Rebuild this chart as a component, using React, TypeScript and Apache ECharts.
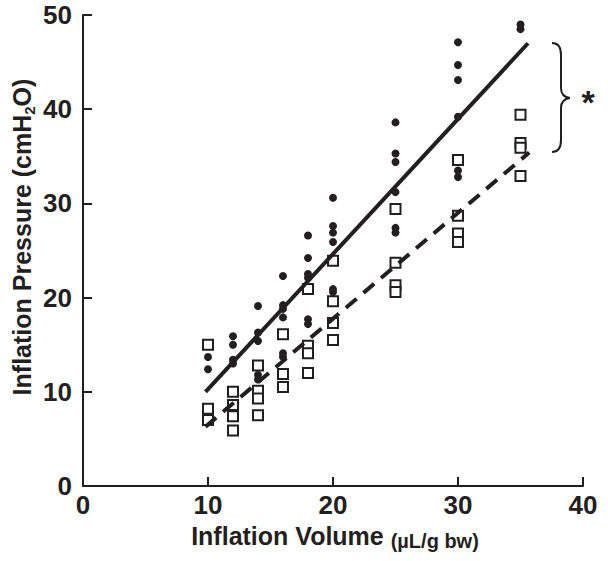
import React, { useEffect, useRef } from 'react';
import * as echarts from 'echarts';

// Inflation volume groups (µL/g bw)
const volumes = [10, 12, 14, 16, 18, 20, 25, 30, 35];
// Filled circles: inflation pressure (cmH2O) per volume
const filledPressures = [
  [13.7, 12.4],
  [15.9, 15.0, 13.4, 13.0],
  [19.1, 16.3, 15.4, 11.8, 11.3],
  [22.3, 19.2, 18.8, 17.9, 14.1, 13.7],
  [26.6, 24.2, 22.5, 22.1, 17.7, 17.2],
  [30.6, 27.6, 26.9, 25.9, 20.9, 20.6],
  [38.6, 35.3, 34.4, 31.2, 27.4, 26.9],
  [47.1, 44.7, 43.1, 39.2, 33.5, 32.8],
  [49.0, 48.5],
];
// Open squares: inflation pressure (cmH2O) per volume
const openPressures = [
  [15.0, 8.2, 7.0],
  [10.0, 8.6, 7.4, 5.9],
  [12.8, 10.1, 9.3, 7.5],
  [16.1, 11.9, 10.5],
  [20.9, 14.9, 14.1, 12.0],
  [23.9, 19.6, 17.3, 15.5],
  [29.4, 23.7, 21.3, 20.6],
  [34.6, 28.7, 26.8, 25.9],
  [39.4, 36.4, 35.9, 32.9],
];
// Regression lines (endpoints)
const solidFit = [[9.8, 10.0], [35.6, 47.0]];
const dashedFit = [[9.8, 6.3], [35.7, 35.4]];

const xAxisRange = { min: 0, max: 40, interval: 10 };
const yAxisRange = { min: 0, max: 50, interval: 10 };

const INK = '#231f20';
const FONT = '"Liberation Sans", Arial, Helvetica, sans-serif';

const BRACE_D =
  'M552,43 Q561,43 561,55 L561,88 Q561,97 570,98 Q561,99 561,108 L561,140 Q561,152 552,152';
echarts.graphic.registerShape('brace', echarts.graphic.extendPath(BRACE_D, {}));

function toPoints(groups: number[][]) {
  const out: number[][] = [];
  volumes.forEach((v, i) => groups[i].forEach((p) => out.push([v, p])));
  return out;
}

export default function App() {
  const ref = useRef<HTMLDivElement>(null);
  useEffect(() => {
    if (!ref.current) return;
    const chart = echarts.init(ref.current, null, { renderer: 'svg' });
    const axisCommon = {
      axisLine: { show: true, lineStyle: { color: INK, width: 2 } },
      axisTick: { show: true, inside: true, length: 9, lineStyle: { color: INK, width: 2 } },
      splitLine: { show: false },
      axisLabel: { color: INK, fontFamily: FONT, fontWeight: 'bold' as const, fontSize: 26 },
    };
    chart.setOption({
      animation: false,
      backgroundColor: '#ffffff',
      grid: { left: 83, right: 25, top: 15, bottom: 75, containLabel: false },
      xAxis: {
        type: 'value',
        ...xAxisRange,
        ...axisCommon,
        axisLabel: { ...axisCommon.axisLabel, margin: 6 },
      },
      yAxis: {
        type: 'value',
        ...yAxisRange,
        ...axisCommon,
        axisLabel: { ...axisCommon.axisLabel, margin: 11 },
      },
      series: [
        {
          type: 'scatter',
          name: 'filled',
          data: toPoints(filledPressures),
          symbol: 'circle',
          symbolSize: 8,
          itemStyle: { color: INK, opacity: 1 },
          z: 2,
        },
        {
          type: 'scatter',
          name: 'open',
          data: toPoints(openPressures),
          symbol: 'rect',
          symbolSize: 10,
          itemStyle: { color: '#ffffff', borderColor: INK, borderWidth: 2, opacity: 1 },
          z: 2,
        },
        {
          type: 'line',
          name: 'fit solid',
          data: solidFit,
          showSymbol: false,
          symbol: 'none',
          lineStyle: { color: INK, width: 4, type: 'solid' },
          z: 3,
        },
        {
          type: 'line',
          name: 'fit dashed',
          data: dashedFit,
          showSymbol: false,
          symbol: 'none',
          lineStyle: { color: INK, width: 4, type: [14, 9] },
          z: 3,
        },
      ],
      graphic: [
        {
          type: 'text',
          x: 22,
          y: 237,
          rotation: Math.PI / 2,
          style: {
            text: '{a|Inflation Pressure (cmH}{s|2}{a|O)}',
            align: 'center',
            verticalAlign: 'middle',
            fill: INK,
            rich: {
              a: { fontSize: 25, fontWeight: 'bold', fontFamily: FONT, fill: INK, lineHeight: 30 },
              s: { fontSize: 15, fontWeight: 'bold', fontFamily: FONT, fill: INK, lineHeight: 14, verticalAlign: 'bottom' },
            },
          },
        },
        {
          type: 'text',
          x: 335,
          y: 536,
          style: {
            text: '{a|Inflation Volume }{b|(µL/g bw)}',
            align: 'center',
            verticalAlign: 'middle',
            fill: INK,
            rich: {
              a: { fontSize: 25, fontWeight: 'bold', fontFamily: FONT, fill: INK, lineHeight: 30 },
              b: { fontSize: 20, fontWeight: 'bold', fontFamily: FONT, fill: INK, lineHeight: 28, verticalAlign: 'bottom' },
            },
          },
        },
        {
          type: 'brace',
          x: 0,
          y: 0,
          style: { stroke: INK, fill: 'none', lineWidth: 2 },
        },
        {
          type: 'text',
          x: 588,
          y: 102,
          style: {
            text: '*',
            align: 'center',
            verticalAlign: 'middle',
            fontSize: 34,
            fontWeight: 'bold',
            fontFamily: FONT,
            fill: INK,
          },
        },
      ],
    });
    return () => chart.dispose();
  }, []);
  return (
    <div
      ref={ref}
      style={{ position: 'fixed', left: 0, top: 0, width: 608, height: 561, background: '#fff' }}
    />
  );
}
